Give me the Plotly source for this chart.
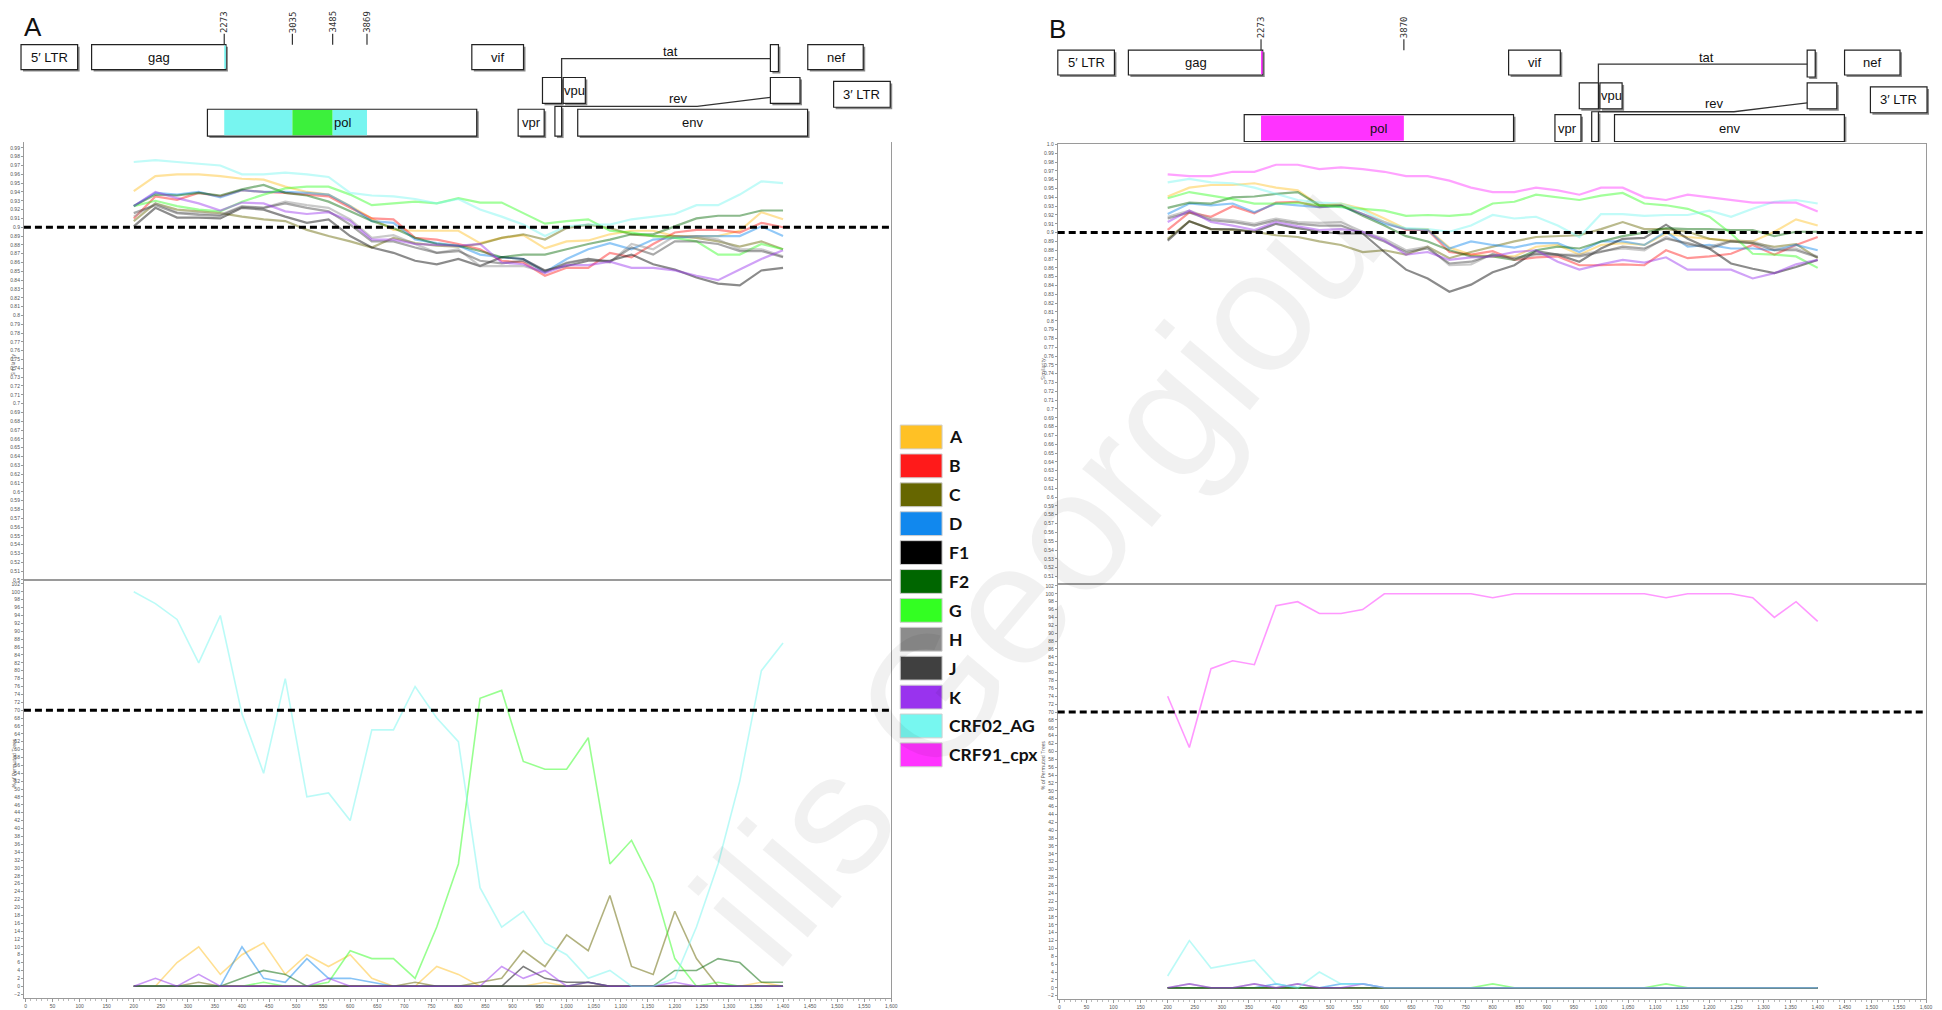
import plotly.graph_objects as go

W, H = 1942, 1010

# ---------------------------------------------------------------- data
SUBTYPES = ["A", "B", "C", "D", "F1", "F2", "G", "H", "J", "K", "CRF02_AG", "CRF91_cpx"]
COLORS = ["#FFC125", "#FF1A1A", "#666600", "#1188EE", "#000000", "#006600",
          "#33FF22", "#8C8C8C", "#404040", "#9933EE", "#77F7F0", "#FF33FF"]

# window midpoints along the query alignment
POS = [200, 240, 280, 320, 360, 400, 440, 480, 520, 560, 600, 640, 680, 720, 760, 800,
       840, 880, 920, 960, 1000, 1040, 1080, 1120, 1160, 1200, 1240, 1280, 1320, 1360, 1400]

# ---- panel A : similarity
SIM_A_A = [.941, .958, .960, .960, .958, .955, .954, .946, .940, .937, .924, .910, .897, .896, .896, .896, .882, .888, .891, .876, .884, .885, .892, .896, .896, .890, .890, .890, .896, .917, .909]
SIM_A_B = [.910, .935, .931, .939, .935, .942, .940, .939, .937, .935, .922, .910, .909, .888, .886, .881, .875, .862, .860, .845, .854, .854, .871, .866, .881, .894, .897, .897, .894, .905, .900]
SIM_A_C = [.907, .927, .920, .918, .916, .912, .909, .907, .897, .890, .884, .877, .888, .882, .879, .878, .881, .888, .892, .886, .899, .903, .899, .892, .890, .890, .888, .884, .878, .884, .875]
SIM_A_D = [.924, .939, .937, .940, .934, .942, .940, .940, .939, .937, .924, .907, .905, .886, .882, .879, .869, .866, .864, .849, .864, .875, .882, .875, .886, .888, .890, .890, .890, .901, .890]
SIM_A_F1 = [.901, .922, .911, .911, .910, .922, .920, .912, .905, .909, .890, .877, .871, .862, .858, .864, .856, .866, .864, .851, .856, .862, .862, .869, .858, .852, .843, .836, .834, .851, .854]
SIM_A_F2 = [.924, .937, .936, .939, .936, .943, .948, .939, .936, .929, .918, .907, .899, .888, .881, .879, .873, .866, .869, .869, .875, .881, .886, .892, .892, .901, .910, .913, .913, .919, .919]
SIM_A_G = [.924, .930, .924, .920, .918, .929, .937, .944, .946, .946, .937, .925, .927, .929, .927, .933, .928, .928, .916, .904, .907, .909, .896, .894, .890, .888, .884, .869, .869, .881, .875]
SIM_A_H = [.912, .927, .917, .916, .914, .924, .922, .929, .925, .922, .909, .888, .891, .881, .871, .875, .856, .856, .856, .849, .860, .864, .860, .881, .875, .890, .890, .886, .875, .875, .867]
SIM_A_J = [.916, .925, .916, .914, .913, .923, .922, .927, .922, .918, .903, .884, .884, .877, .871, .873, .862, .859, .862, .850, .859, .864, .861, .877, .869, .884, .884, .881, .873, .873, .866]
SIM_A_K = [.924, .940, .933, .927, .919, .928, .927, .918, .915, .917, .907, .886, .886, .881, .880, .879, .881, .860, .858, .848, .857, .857, .861, .854, .854, .851, .845, .840, .852, .864, .874]
SIM_A_CRF02 = [.974, .976, .974, .972, .970, .960, .960, .962, .960, .957, .939, .936, .935, .932, .927, .932, .920, .912, .903, .890, .901, .903, .903, .909, .912, .915, .925, .925, .937, .952, .950]

# ---- panel A : % of permuted trees
PT_A_A = [0, 0, 6, 10, 3, 8, 11, 3, 8, 5, 8, 2, 0, 0, 5, 3, 0, 0, 0, 1, 0, 0, 0, 0, 0, 0, 0, 0, 0, 1, 0]
PT_A_B = [0, 0, 0, 0, 0, 0, 0, 0, 0, 0, 0, 0, 0, 0, 0, 0, 0, 0, 0, 0, 0, 0, 0, 0, 0, 0, 0, 0, 0, 0, 0]
PT_A_C = [0, 0, 0, 1, 0, 0, 0, 0, 0, 0, 0, 0, 0, 1, 0, 0, 1, 2, 9, 5, 13, 9, 23, 5, 3, 19, 7, 0, 0, 0, 0]
PT_A_D = [0, 0, 0, 0, 0, 10, 2, 1, 7, 2, 2, 1, 0, 0, 0, 0, 0, 0, 0, 0, 0, 0, 0, 0, 0, 0, 0, 0, 0, 0, 0]
PT_A_F1 = [0, 0, 0, 0, 0, 0, 0, 0, 0, 0, 0, 0, 0, 0, 0, 0, 0, 0, 5, 2, 1, 1, 0, 0, 0, 0, 0, 0, 0, 0, 0]
PT_A_F2 = [0, 0, 0, 0, 0, 2, 4, 3, 0, 0, 0, 0, 0, 0, 0, 0, 0, 0, 0, 0, 0, 1, 0, 0, 0, 4, 4, 7, 6, 1, 1]
PT_A_G = [0, 0, 0, 0, 0, 0, 1, 0, 0, 1, 9, 7, 7, 2, 15, 31, 73, 75, 57, 55, 55, 63, 31, 37, 26, 7, 0, 1, 0, 0, 0]
PT_A_H = [0, 0, 0, 0, 0, 0, 0, 0, 0, 0, 0, 0, 0, 0, 0, 0, 0, 0, 0, 0, 0, 0, 0, 0, 0, 0, 0, 0, 0, 0, 0]
PT_A_J = [0, 0, 0, 0, 0, 0, 0, 0, 0, 0, 0, 0, 0, 0, 0, 0, 0, 0, 0, 0, 0, 0, 0, 0, 0, 0, 0, 0, 0, 0, 0]
PT_A_K = [0, 2, 0, 3, 0, 0, 0, 0, 0, 2, 0, 0, 0, 0, 0, 0, 0, 5, 2, 4, 0, 1, 0, 0, 0, 1, 0, 0, 0, 0, 0]
PT_A_CRF02 = [100, 97, 93, 82, 94, 69, 54, 78, 48, 49, 42, 65, 65, 76, 68, 62, 25, 15, 19, 11, 8, 2, 4, 0, 0, 2, 15, 31, 52, 80, 87]

# ---- panel B : similarity
SIM_B_A = [.941, .951, .954, .954, .956, .951, .948, .931, .933, .927, .916, .904, .904, .883, .875, .873, .873, .884, .886, .875, .886, .888, .886, .899, .895, .893, .891, .890, .901, .915, .908]
SIM_B_B = [.903, .923, .918, .930, .922, .934, .935, .929, .931, .921, .912, .903, .903, .878, .875, .879, .869, .872, .873, .863, .863, .864, .863, .880, .871, .873, .876, .886, .875, .886, .895]
SIM_B_C = [.893, .913, .904, .903, .901, .897, .895, .890, .886, .878, .880, .875, .884, .871, .878, .884, .890, .895, .896, .897, .904, .912, .904, .904, .901, .893, .890, .888, .884, .887, .871]
SIM_B_D = [.921, .933, .931, .933, .923, .933, .931, .929, .930, .921, .910, .904, .903, .882, .890, .886, .883, .888, .888, .878, .890, .890, .886, .901, .884, .886, .882, .882, .880, .886, .880]
SIM_B_F1 = [.891, .913, .904, .904, .901, .910, .905, .901, .899, .899, .878, .858, .848, .833, .841, .855, .863, .879, .875, .867, .882, .893, .894, .909, .893, .882, .865, .859, .854, .861, .869]
SIM_B_F2 = [.928, .934, .933, .940, .941, .944, .946, .931, .931, .919, .908, .896, .890, .880, .873, .873, .869, .880, .884, .882, .890, .896, .900, .905, .904, .904, .903, .903, .896, .901, .901]
SIM_B_G = [.939, .946, .942, .938, .933, .933, .934, .931, .929, .927, .925, .919, .920, .919, .921, .933, .935, .943, .940, .937, .942, .945, .933, .931, .927, .918, .899, .876, .875, .873, .860]
SIM_B_H = [.918, .925, .916, .914, .910, .916, .912, .911, .912, .901, .893, .880, .884, .863, .864, .876, .869, .875, .875, .875, .879, .882, .880, .895, .886, .884, .891, .890, .882, .882, .873]
SIM_B_J = [.916, .923, .914, .912, .908, .914, .910, .908, .908, .899, .890, .878, .882, .865, .867, .875, .871, .876, .875, .873, .878, .884, .882, .893, .888, .882, .890, .888, .880, .880, .872]
SIM_B_K = [.912, .925, .912, .908, .903, .912, .907, .903, .904, .901, .891, .875, .878, .869, .872, .873, .878, .880, .867, .858, .864, .869, .866, .872, .858, .858, .858, .848, .854, .864, .869]
SIM_B_CRF02 = [.957, .961, .957, .956, .951, .944, .937, .934, .933, .925, .912, .905, .904, .901, .908, .920, .916, .918, .908, .895, .921, .921, .919, .920, .920, .925, .918, .927, .935, .937, .933]
SIM_B_CRF91 = [.966, .964, .964, .969, .969, .977, .977, .972, .974, .972, .969, .964, .964, .959, .951, .946, .946, .951, .948, .943, .951, .951, .940, .937, .943, .940, .937, .934, .934, .934, .924]

# ---- panel B : % of permuted trees
PT_B_ZERO = [0, 0, 0, 0, 0, 0, 0, 0, 0, 0, 0, 0, 0, 0, 0, 0, 0, 0, 0, 0, 0, 0, 0, 0, 0, 0, 0, 0, 0, 0, 0]
PT_B_D = [0, 0, 0, 0, 0, 1, 0, 0, 1, 1, 0, 0, 0, 0, 0, 0, 0, 0, 0, 0, 0, 0, 0, 0, 0, 0, 0, 0, 0, 0, 0]
PT_B_G = [0, 0, 0, 0, 0, 0, 0, 0, 0, 0, 0, 0, 0, 0, 0, 1, 0, 0, 0, 0, 0, 0, 0, 1, 0, 0, 0, 0, 0, 0, 0]
PT_B_H = [0, 1, 0, 0, 1, 0, 1, 0, 0, 0, 0, 0, 0, 0, 0, 0, 0, 0, 0, 0, 0, 0, 0, 0, 0, 0, 0, 0, 0, 0, 0]
PT_B_K = [0, 1, 0, 0, 1, 0, 1, 0, 0, 1, 0, 0, 0, 0, 0, 0, 0, 0, 0, 0, 0, 0, 0, 0, 0, 0, 0, 0, 0, 0, 0]
PT_B_CRF02 = [3, 12, 5, 6, 7, 1, 0, 4, 1, 1, 0, 0, 0, 0, 0, 0, 0, 0, 0, 0, 0, 0, 0, 0, 0, 0, 0, 0, 0, 0, 0]
PT_B_CRF91 = [74, 61, 81, 83, 82, 97, 98, 95, 95, 96, 100, 100, 100, 100, 100, 99, 100, 100, 100, 100, 100, 100, 100, 99, 100, 100, 100, 99, 94, 98, 93]

SIM_A = [SIM_A_A, SIM_A_B, SIM_A_C, SIM_A_D, SIM_A_F1, SIM_A_F2, SIM_A_G, SIM_A_H, SIM_A_J, SIM_A_K, SIM_A_CRF02, None]
PT_A = [PT_A_A, PT_A_B, PT_A_C, PT_A_D, PT_A_F1, PT_A_F2, PT_A_G, PT_A_H, PT_A_J, PT_A_K, PT_A_CRF02, None]
SIM_B = [SIM_B_A, SIM_B_B, SIM_B_C, SIM_B_D, SIM_B_F1, SIM_B_F2, SIM_B_G, SIM_B_H, SIM_B_J, SIM_B_K, SIM_B_CRF02, SIM_B_CRF91]
PT_B = [PT_B_ZERO, PT_B_ZERO, PT_B_ZERO, PT_B_D, PT_B_ZERO, PT_B_ZERO, PT_B_G, PT_B_H, PT_B_ZERO, PT_B_K, PT_B_CRF02, PT_B_CRF91]

SIM_CUTOFF = 0.9
PT_CUTOFF = 70

# genome map (HXB2 coordinates)
GENE_LABEL = ["5\u2032 LTR", "gag", "vif", "", "nef", "", "vpu", "", "3\u2032 LTR", "pol", "vpr", "", "env"]
GENE_START = [1, 790, 5041, 8379, 8797, 5831, 6062, 8379, 9086, 2085, 5559, 5970, 6225]
GENE_END = [634, 2292, 5619, 8469, 9417, 6045, 6310, 8710, 9719, 5096, 5850, 6045, 8795]
GENE_ROW = ["r1", "r1", "r1", "r1tall", "r1", "r2", "r2", "r2", "ltr3", "r3", "r3", "r3tall", "r3"]
BREAKS_A = [2273, 3035, 3485, 3869]
SEG_A = [(2273, 3035, "#77F5F0"), (3035, 3485, "#3CF03C"), (3485, 3869, "#77F5F0")]
BREAKS_B = [2273, 3870]
SEG_B = [(2273, 3870, "#FF33FF")]

# ---------------------------------------------------------------- layout helpers
def xp(px):
    return px / W


def yp(py):
    return 1 - py / H


ROW_Y = {"r1": (42, 67), "r1tall": (42, 69), "r2": (75, 101), "ltr3": (79, 105),
         "r3": (107, 134), "r3tall": (104, 134)}
NT_PX = 872 / 9719

PANELS = [
    dict(name="A", sim=SIM_A, pt=PT_A, xs=(24, 894), up=(137, 581), lo=(581, 1002),
         lo_rng=(-3.0, 103.0), up_rng=(0.5, 1.0), n_up=1, n_lo=2, n_map=5,
         nt0=21, dy=0, breaks=BREAKS_A, segs=SEG_A, letter_x=22, letter_y=24),
    dict(name="B", sim=SIM_B, pt=PT_B, xs=(1061, 1932), up=(142, 585), lo=(585, 1003),
         lo_rng=(-2.85, 102.5), up_rng=(0.5015, 1.0005), n_up=3, n_lo=4, n_map=6,
         nt0=1061, dy=5.5, breaks=BREAKS_B, segs=SEG_B, letter_x=1050, letter_y=26),
]

TICK_FONT = dict(family="Liberation Sans, Arial", size=5, color="#555")
UP_TICKS = [round(0.5 + 0.01 * i, 2) for i in range(51)]
UP_TEXT = ["1.0" if v == 1.0 else f"{v:g}" for v in UP_TICKS]
LO_TICKS = list(range(-2, 103, 2))
X_TICKS = list(range(0, 1601, 50))
X_TEXT = [f"{v:,}" for v in X_TICKS]

fig = go.Figure()
layout = dict(width=W, height=H, margin=dict(l=0, r=0, t=0, b=0),
              paper_bgcolor="white", plot_bgcolor="white", showlegend=False)
shapes = []
annotations = []

# author watermark (drawn first so it sits underneath the labels)
annotations.append(dict(text="ilis Georgiou", xref="paper", yref="paper", x=xp(1040), y=yp(572),
                        showarrow=False, textangle=-50,
                        font=dict(family="Liberation Sans, Arial", size=172,
                                  color="rgba(0,0,0,0.055)")))

for P in PANELS:
    nu, nl, nm = P["n_up"], P["n_lo"], P["n_map"]
    xdom = [xp(P["xs"][0]), xp(P["xs"][1])]
    sfx = lambda n: "" if n == 1 else str(n)

    # similarity (upper) and permuted-tree support (lower) axes
    layout[f"xaxis{sfx(nu)}"] = dict(domain=xdom, range=[-3, 1600], anchor=f"y{sfx(nu)}",
                                     showline=True, mirror=True, linecolor="#9a9a9a", linewidth=1,
                                     showgrid=False, zeroline=False, showticklabels=False, ticks="")
    layout[f"yaxis{sfx(nu)}"] = dict(domain=[yp(P["up"][1]), yp(P["up"][0])], range=list(P["up_rng"]),
                                     anchor=f"x{sfx(nu)}", showline=True, mirror=True,
                                     linecolor="#9a9a9a", linewidth=1, showgrid=False, zeroline=False,
                                     tickvals=UP_TICKS, ticktext=UP_TEXT, ticks="outside", ticklen=2,
                                     tickcolor="#999", tickfont=TICK_FONT)
    layout[f"xaxis{nl}"] = dict(domain=xdom, range=[-3, 1600], anchor=f"y{nl}",
                                showline=True, mirror=True, linecolor="#9a9a9a", linewidth=1,
                                showgrid=False, zeroline=False, tickvals=X_TICKS, ticktext=X_TEXT,
                                ticks="outside", ticklen=3, tickcolor="#999", tickfont=TICK_FONT,
                                tickangle=0,
                                minor=dict(dtick=10, tick0=0, ticks="outside", ticklen=2, tickcolor="#bbb"))
    layout[f"yaxis{nl}"] = dict(domain=[yp(P["lo"][1]), yp(P["lo"][0])], range=list(P["lo_rng"]),
                                anchor=f"x{nl}", showline=True, mirror=True, linecolor="#9a9a9a",
                                linewidth=1, showgrid=False, zeroline=False, tickvals=LO_TICKS,
                                ticks="outside", ticklen=2, tickcolor="#999", tickfont=TICK_FONT)

    for name, col, ys, ps in zip(SUBTYPES, COLORS, P["sim"], P["pt"]):
        if ys is not None:
            fig.add_trace(go.Scatter(x=POS, y=ys, mode="lines", name=name, opacity=0.45,
                                     line=dict(color=col, width=2.2),
                                     xaxis=f"x{sfx(nu)}", yaxis=f"y{sfx(nu)}"))
        if ps is not None:
            fig.add_trace(go.Scatter(x=POS, y=ps, mode="lines", name=name, opacity=0.5,
                                     line=dict(color=col, width=1.6),
                                     xaxis=f"x{nl}", yaxis=f"y{nl}"))

    # cut-off lines
    shapes.append(dict(type="line", xref=f"x{sfx(nu)} domain", yref=f"y{sfx(nu)}", x0=0, x1=1,
                       y0=SIM_CUTOFF, y1=SIM_CUTOFF, line=dict(color="black", width=3, dash="7px,4px")))
    shapes.append(dict(type="line", xref=f"x{nl} domain", yref=f"y{nl}", x0=0, x1=1,
                       y0=PT_CUTOFF, y1=PT_CUTOFF, line=dict(color="black", width=3, dash="7px,4px")))

    # axis titles
    annotations.append(dict(text="Similarity", xref="paper", yref="paper",
                            x=xp(P["xs"][0] - 15), y=yp((P["up"][0] + P["up"][1]) / 2 + 5),
                            showarrow=False, textangle=-90, font=dict(size=5, color="#555")))
    annotations.append(dict(text="% of Permuted Trees", xref="paper", yref="paper",
                            x=xp(P["xs"][0] - 15), y=yp((P["lo"][0] + P["lo"][1]) / 2),
                            showarrow=False, textangle=-90, font=dict(size=5, color="#555")))

    # genome strip axes: x in nucleotides, y in pixel rows
    left_px, right_px = (0, 971) if P["name"] == "A" else (971, 1942)
    layout[f"xaxis{nm}"] = dict(domain=[xp(left_px), xp(right_px)], visible=False,
                                range=[(left_px - P["nt0"]) / NT_PX, (right_px - P["nt0"]) / NT_PX])
    layout[f"yaxis{nm}"] = dict(domain=[yp(140), 1], visible=False,
                                range=[140 - P["dy"], -P["dy"]])
    xr, yr = f"x{nm}", f"y{nm}"
    shadow = 2 / NT_PX

    for lab, s, e, row in zip(GENE_LABEL, GENE_START, GENE_END, GENE_ROW):
        y0, y1 = ROW_Y[row]
        shapes.append(dict(type="rect", xref=xr, yref=yr, x0=s + shadow, x1=e + shadow,
                           y0=y0 + 2, y1=y1 + 2, line=dict(width=0), fillcolor="#8a8a8a"))
        shapes.append(dict(type="rect", xref=xr, yref=yr, x0=s, x1=e, y0=y0, y1=y1,
                           line=dict(color="#222", width=1.2), fillcolor="white"))
        for (a, b, c) in P["segs"]:
            lo_, hi_ = max(a, s), min(b, e)
            if lo_ < hi_ and lab in ("gag", "pol"):
                shapes.append(dict(type="rect", xref=xr, yref=yr, x0=lo_, x1=hi_,
                                   y0=y0 + 0.8, y1=y1 - 0.8, line=dict(width=0), fillcolor=c))
        if lab:
            annotations.append(dict(text=lab, xref=xr, yref=yr, x=(s + e) / 2, y=(y0 + y1) / 2,
                                    showarrow=False,
                                    font=dict(family="Liberation Sans Narrow, Liberation Sans, Arial",
                                              size=13, color="#111")))

    # tat / rev splice connectors
    shapes.append(dict(type="path", xref=xr, yref=yr, path="M 6045 75 L 6045 56 L 8379 56",
                       line=dict(color="#333", width=1.3)))
    shapes.append(dict(type="path", xref=xr, yref=yr, path="M 6045 104 L 7560 104 L 8379 95",
                       line=dict(color="#333", width=1.3)))
    annotations.append(dict(text="tat", xref=xr, yref=yr, x=7258, y=49, showarrow=False,
                            font=dict(family="Liberation Sans Narrow, Liberation Sans, Arial",
                                      size=13, color="#111")))
    annotations.append(dict(text="rev", xref=xr, yref=yr, x=7347, y=96, showarrow=False,
                            font=dict(family="Liberation Sans Narrow, Liberation Sans, Arial",
                                      size=13, color="#111")))

    # breakpoint markers
    for b in P["breaks"]:
        shapes.append(dict(type="line", xref=xr, yref=yr, x0=b, x1=b, y0=31, y1=42,
                           line=dict(color="#333", width=1.2)))
        annotations.append(dict(text=str(b), xref=xr, yref=yr, x=b, y=19, showarrow=False,
                                textangle=-90, font=dict(family="DejaVu Sans Mono, monospace",
                                                         size=9, color="#333")))

    # panel letter
    annotations.append(dict(text=P["name"], xref="paper", yref="paper", x=xp(P["letter_x"]),
                            y=yp(P["letter_y"]), xanchor="left", yanchor="middle", showarrow=False,
                            font=dict(family="Liberation Sans, Arial", size=26, color="#111")))

# shared legend
for i, (name, col) in enumerate(zip(SUBTYPES, COLORS)):
    top = 425 + 29.1 * i
    shapes.append(dict(type="rect", xref="paper", yref="paper", x0=xp(903), x1=xp(945),
                       y0=yp(top + 24), y1=yp(top), line=dict(color="#cfcfcf", width=1),
                       fillcolor=col))
    annotations.append(dict(text=f"<b>{name}</b>", xref="paper", yref="paper", x=xp(950),
                            y=yp(top + 12), xanchor="left", yanchor="middle", showarrow=False,
                            font=dict(family="Lato, Open Sans, Arial", size=17.5, color="#111")))

layout["shapes"] = shapes
layout["annotations"] = annotations
fig.update_layout(**layout)
fig.write_html("out.html")
